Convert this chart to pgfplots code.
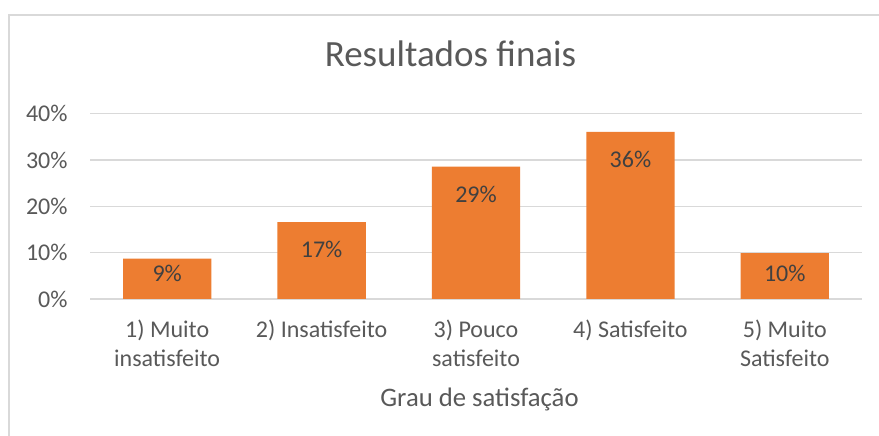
\documentclass[border=0pt]{standalone}
\usepackage{pgfplots}
\pgfplotsset{compat=1.18}
\usepackage{fontspec}
\setmainfont{Carlito}
\definecolor{barorange}{HTML}{ED7D31}
\definecolor{gridgray}{HTML}{D9D9D9}
\definecolor{textgray}{HTML}{595959}
\definecolor{labelgray}{HTML}{404040}
\begin{document}
\begin{tikzpicture}[x=1bp,y=1bp]
\useasboundingbox (0,0) rectangle (879,436);
\fill[white] (0,0) rectangle (879,436);
\draw[gridgray, line width=1.3bp] (9,-10) -- (9,421) -- (890,421);
\begin{axis}[
  at={(90bp,137bp)}, anchor=south west,
  scale only axis, width=772bp, height=185.3bp,
  xmin=-0.5, xmax=4.5, ymin=0, ymax=40,
  axis line style={draw=none},
  major tick length=0pt,
  tick style={draw=none},
  ymajorgrids, grid style={gridgray, line width=1.3bp},
  ytick={0,10,20,30,40},
  yticklabels={0\%,10\%,20\%,30\%,40\%},
  yticklabel style={anchor=east, inner sep=0pt, xshift=-22.3bp, text=textgray, font=\fontsize{24bp}{28.5bp}\selectfont},
  xtick={0,1,2,3,4},
  xticklabels={{1) Muito\\insatisfeito},{2) Insatisfeito},{3) Pouco\\satisfeito},{4) Satisfeito},{5) Muito\\Satisfeito}},
  xticklabel style={align=center, anchor=north, inner sep=0pt, yshift=-21bp, text=textgray, font=\fontsize{24bp}{28.5bp}\selectfont},
  title={Resultados finais},
  title style={at={(axis description cs:0.467,1.2234)}, anchor=base, yshift=0pt, inner sep=0pt, text=textgray, font=\fontsize{37bp}{44bp}\selectfont},
  xlabel={Grau de satisfação},
  xlabel style={at={(axis description cs:0.5045,-0.581)}, anchor=base, inner sep=0pt, text=textgray, font=\fontsize{26.7bp}{32bp}\selectfont},
  clip=false,
]
\addplot[ybar, bar width=0.572, draw=none, fill=barorange] coordinates {
  (0,8.7)
  (1,16.6)
  (2,28.6)
  (3,36.1)
  (4,9.9)
};
% data labels (inside end of each bar)
\addplot[draw=none, mark=none, nodes near coords, point meta=explicit symbolic,
  nodes near coords style={anchor=base, inner sep=0pt, text=labelgray, font=\fontsize{24bp}{28.5bp}\selectfont}]
  coordinates {
  (0,3.73) [9\%]
  (1,8.92) [17\%]
  (2,20.92) [29\%]
  (3,28.42) [36\%]
  (4,3.73) [10\%]
};
\end{axis}
\end{tikzpicture}
\end{document}
